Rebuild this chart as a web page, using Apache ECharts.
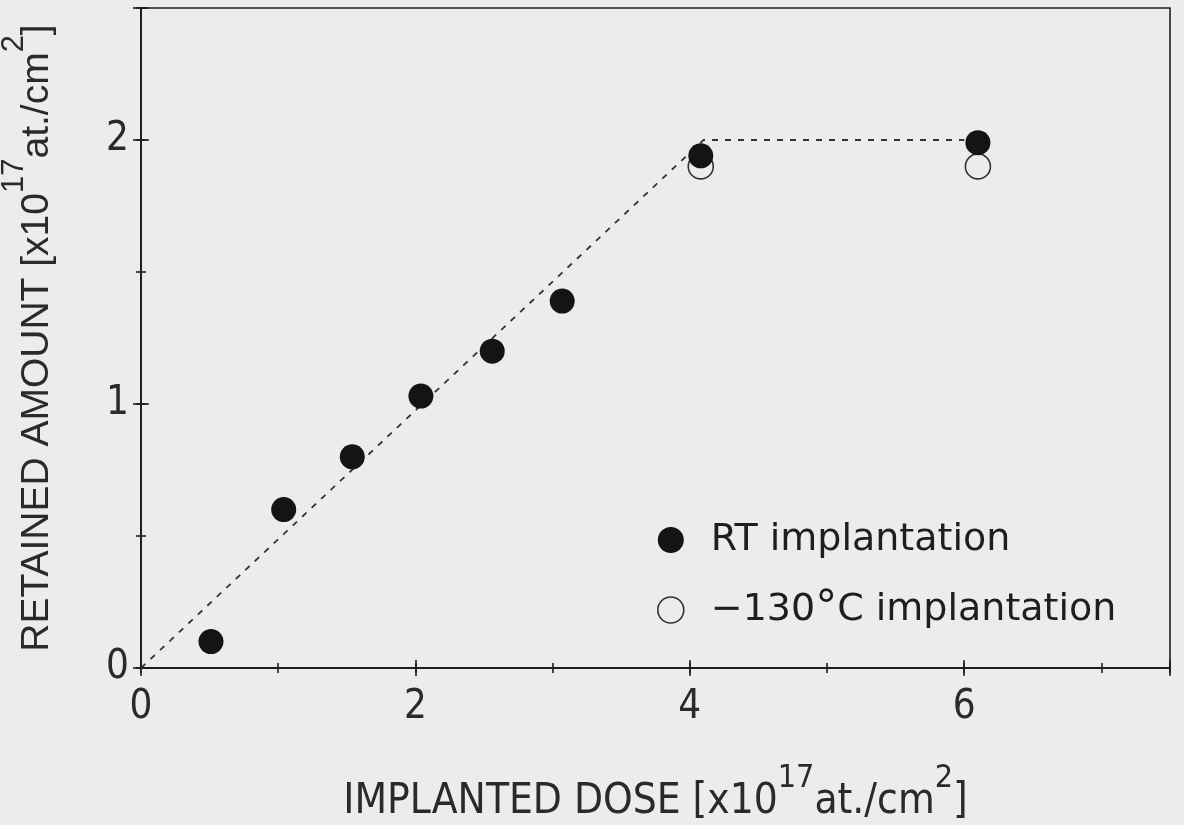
<!DOCTYPE html>
<html>
<head>
<meta charset="utf-8">
<script src="https://cdn.jsdelivr.net/npm/echarts@6/dist/echarts.min.js"></script>
<style>
html,body{margin:0;padding:0;background:#ececec;}
#chart{width:1184px;height:825px;}
</style>
</head>
<body>
<div id="chart"></div>
<script>
// ---- data ----
const doseRT = [0.51, 1.04, 1.54, 2.04, 2.56, 3.07, 4.08, 6.10];
const retainedRT = [0.10, 0.60, 0.80, 1.03, 1.20, 1.39, 1.94, 1.99];
const doseCold = [4.08, 6.10];
const retainedCold = [1.90, 1.90];
const guideDose = [0, 4.1, 6.0];
const guideRetained = [0, 2.0, 2.0];
const seriesNames = ['RT implantation', '\u2212130°C implantation'];
const xRange = [0, 7.5];
const yRange = [0, 2.5];

const zip = (a, b) => a.map((v, i) => [v, b[i]]);
const ink = '#1e1e1e';
const tickFont = "'Liberation Sans Narrow', 'DejaVu Sans Condensed', 'Liberation Sans', sans-serif";
const intLabel = v => (Math.abs(v - Math.round(v)) < 1e-9 ? String(Math.round(v)) : '');

function tickAxis(base, interval, inside, len, extra) {
  return Object.assign({
    type: 'value', min: base[0], max: base[1], interval: interval,
    axisLine: { show: false }, splitLine: { show: false },
    axisLabel: { show: false },
    axisTick: { show: true, inside: inside, length: len, lineStyle: { color: ink, width: 1.6 } }
  }, extra || {});
}

const chart = echarts.init(document.getElementById('chart'));
chart.setOption({
  backgroundColor: '#ececec',
  animation: false,
  grid: {
    left: 141, right: 14, top: 8, bottom: 157, containLabel: false, outerBoundsMode: 'none',
    show: true, borderColor: ink, borderWidth: 1.6, backgroundColor: 'transparent'
  },
  legend: {
    orient: 'vertical', left: 652, top: 516, itemWidth: 26, itemHeight: 26, itemGap: 29,
    icon: 'circle',
    data: [
      { name: seriesNames[0], itemStyle: { color: '#141414', opacity: 1 } },
      { name: seriesNames[1], itemStyle: { color: 'transparent', borderColor: '#333', borderWidth: 1.6 } }
    ],
    formatter: n => n.replace('°', '{deg|°}'),
    textStyle: {
      fontFamily: 'DejaVu Sans', fontSize: 38, color: ink, padding: [0, 0, 0, 22],
      rich: { deg: { fontFamily: 'DejaVu Sans', fontSize: 44, color: ink } }
    }
  },
  xAxis: [
    {
      type: 'value', min: xRange[0], max: xRange[1], interval: 2, position: 'bottom',
      axisLine: { show: true, onZero: false, lineStyle: { color: ink, width: 2 } },
      axisTick: { show: true, length: 8, lineStyle: { color: ink, width: 1.6 } },
      splitLine: { show: false },
      axisLabel: { margin: 20, fontSize: 40, color: '#2a2a2a', fontFamily: tickFont, formatter: intLabel },
      name: '{t|IMPLANTED DOSE [x10}{s|17}{t|at./cm}{s|2}{t|]}',
      nameLocation: 'middle', nameGap: 95,
      nameTextStyle: {
        rich: {
          t: { fontFamily: tickFont, fontSize: 42, color: '#2a2a2a', lineHeight: 60, verticalAlign: 'bottom' },
          s: { fontFamily: tickFont, fontSize: 32, color: '#2a2a2a', lineHeight: 60, verticalAlign: 'top' }
        }
      }
    },
    tickAxis(xRange, 2, true, 8, { position: 'bottom' }),
    tickAxis(xRange, 1, false, 5, { position: 'bottom' }),
    tickAxis(xRange, 1, true, 5, { position: 'bottom' })
  ],
  yAxis: [
    {
      type: 'value', min: yRange[0], max: yRange[1], interval: 1, position: 'left',
      axisLine: { show: true, onZero: false, lineStyle: { color: ink, width: 2 } },
      axisTick: { show: true, length: 8, lineStyle: { color: ink, width: 1.6 } },
      splitLine: { show: false },
      axisLabel: { margin: 12, fontSize: 40, color: '#2a2a2a', fontFamily: tickFont, formatter: intLabel },
      name: '{t|RETAINED AMOUNT [x10}{s|17}{t|at./cm}{s|2}{t|]}',
      nameLocation: 'middle', nameGap: 84, nameRotate: 90,
      nameTextStyle: {
        rich: {
          t: { fontFamily: 'Liberation Sans', fontSize: 39, color: '#2a2a2a', lineHeight: 58, verticalAlign: 'bottom' },
          s: { fontFamily: 'Liberation Sans', fontSize: 31, color: '#2a2a2a', lineHeight: 58, verticalAlign: 'top' }
        }
      }
    },
    tickAxis(yRange, 1, true, 8, { position: 'left' }),
    tickAxis(yRange, 0.5, false, 5, { position: 'left' }),
    tickAxis(yRange, 0.5, true, 5, { position: 'left' })
  ],
  series: [
    {
      name: 'guide', type: 'line', data: zip(guideDose, guideRetained), symbol: 'none', silent: true, z: 1,
      lineStyle: { color: '#333', width: 1.8, type: [6, 7] }
    },
    {
      name: seriesNames[1], type: 'scatter', data: zip(doseCold, retainedCold), symbol: 'circle', symbolSize: 25, z: 2,
      itemStyle: { color: 'transparent', borderColor: '#333', borderWidth: 1.6, opacity: 1 }
    },
    {
      name: seriesNames[0], type: 'scatter', data: zip(doseRT, retainedRT), symbol: 'circle', symbolSize: 25, z: 3,
      itemStyle: { color: '#141414', opacity: 1 }
    }
  ]
});
</script>
</body>
</html>
